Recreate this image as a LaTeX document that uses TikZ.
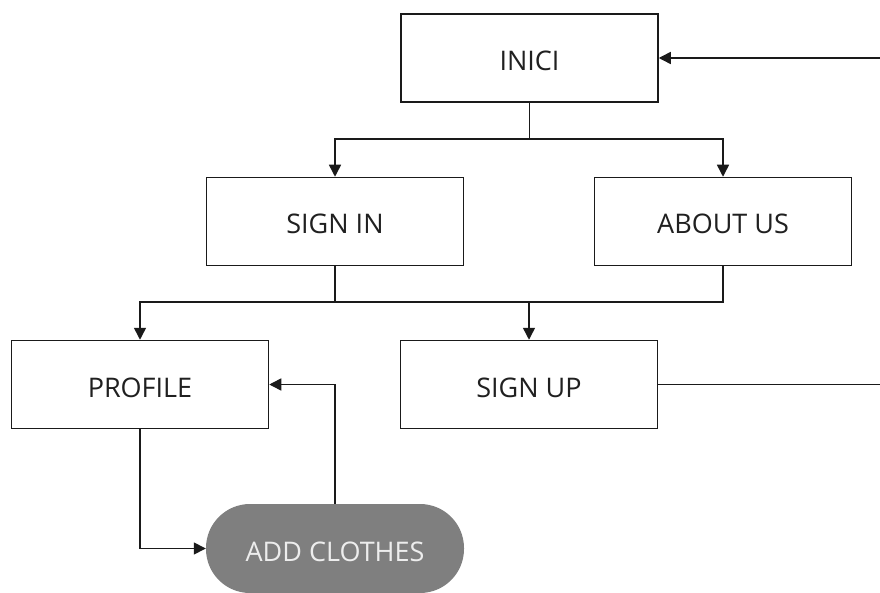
\documentclass[tikz,border=0pt]{standalone}
\usepackage{fontspec}
\setmainfont{Open Sans}
\usetikzlibrary{arrows.meta}
\definecolor{ink}{HTML}{1A1A1A}
\definecolor{txt}{HTML}{202020}
\definecolor{pill}{HTML}{7F7F7F}
\begin{document}
\begin{tikzpicture}[x=1pt,y=-1pt,
  labeltext/.style={font=\fontsize{27}{32}\selectfont,inner sep=0pt,text height=25pt,text depth=0pt},
  pagebox/.style={labeltext,draw=ink,line width=1.5pt,fill=white,minimum width=257pt,minimum height=88pt,text=txt},
  actionbox/.style={labeltext,draw=none,fill=pill,minimum width=258pt,minimum height=89pt,rounded corners=44pt,
    text=white!93!black},
  link/.style={draw=ink,line width=1.5pt},
  arr/.style={link,-{Triangle[length=12pt,width=12pt]}}]
\useasboundingbox (0,0) rectangle (880,593);
\node[pagebox] (inici) at (529.5,58) {INICI};
\node[pagebox] (signin) at (335,221.5) {SIGN IN};
\node[pagebox] (about) at (723,221.5) {ABOUT US};
\node[pagebox] (profile) at (140,384.5) {PROFILE};
\node[pagebox] (signup) at (529,384.5) {SIGN UP};
\node[actionbox] (add) at (335,548.5) {ADD CLOTHES};
\coordinate (rin) at (880,58);
\coordinate (rout) at (880,384.5);
% from the start page to its two children
\draw[link] (inici.south) -- (529.5,139);
\draw[arr] (529.5,139) -| (signin.north);
\draw[arr] (529.5,139) -| (about.north);
% from sign in / about us to the next level
\draw[link] (signin.south) |- (529,302);
\draw[link] (about.south) |- (529,302);
\draw[arr] (335,302) -| (profile.north);
\draw[arr] (529,302) -- (signup.north);
% return loop from sign up to the start page
\draw[link] (signup.east) -- (rout);
\draw[arr] (rin) -- (inici.east);
% profile and add clothes
\draw[arr] (profile.south) |- (add.west);
\draw[arr] (add.north) |- (profile.east);
\end{tikzpicture}
\end{document}
